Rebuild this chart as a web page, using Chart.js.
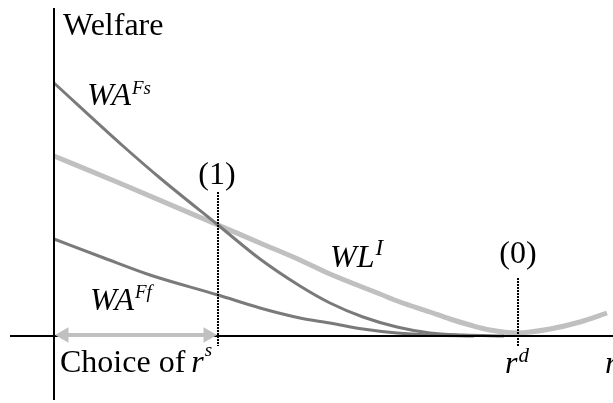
<!DOCTYPE html>
<html>
<head>
<meta charset="utf-8">
<script src="https://cdn.jsdelivr.net/npm/chart.js@4/dist/chart.umd.min.js"></script>
<style>
  body { margin: 0; background: #fff; }
  #wrap { width: 613px; height: 403px; }
</style>
</head>
<body>
<div id="wrap"><canvas id="welfare" width="613" height="403"></canvas></div>
<script>
// interest rate r (x) and welfare (y)
const rFs = [0, 69, 106, 164, 206, 246, 276, 309, 343, 376, 409, 450];
const WAFs = [253, 190, 158, 111, 77, 50, 33, 19, 9, 3, 1, 0];

const rFf = [0, 50, 96, 164, 206, 246, 276, 309, 343, 376, 420];
const WAFf = [97, 78, 61, 41, 28, 18, 13, 7, 3, 1, 0];

const rL = [0, 63, 164, 206, 246, 276, 326, 346, 376, 396, 416, 436, 463, 496, 526, 553];
const WLI = [180, 154, 111, 93, 76, 62, 42, 34, 24, 17, 11, 6, 3, 7, 14, 23];

// marked rates: r^s (point 1) and r^d (point 0)
const rMarks = [164, 464];
const markTops = [144, 58];
const markLabels = ['(1)', '(0)'];

// axes extents
const xAxisR = [-44, 559];
const yAxisW = [-64, 328];
const arrowR = [10, 154];

const pts = (xs, ys) => xs.map((x, i) => ({ x: x, y: ys[i] }));

const serif = '"Liberation Serif", "Times New Roman", serif';

function supText(ctx, main, sup, x, y, size, supSize, rise, italicMain) {
  ctx.font = (italicMain ? 'italic ' : '') + size + 'px ' + serif;
  ctx.fillText(main, x, y);
  const w = ctx.measureText(main).width;
  ctx.font = 'italic ' + supSize + 'px ' + serif;
  ctx.fillText(sup, x + w + 1, y - rise);
}

const labelsPlugin = {
  id: 'labels',
  afterDatasetsDraw(chart) {
    const ctx = chart.ctx;
    const xs = chart.scales.x, ys = chart.scales.y;
    const px = v => xs.getPixelForValue(v);
    const py = v => ys.getPixelForValue(v);
    ctx.save();
    ctx.fillStyle = '#000';
    ctx.textBaseline = 'alphabetic';

    ctx.textAlign = 'left';
    ctx.font = '32px ' + serif;
    ctx.fillText('Welfare', px(9), py(301));

    supText(ctx, 'WA', 'Fs', px(33), py(231), 32, 19, 11, true);
    supText(ctx, 'WA', 'Ff', px(36), py(26), 32, 19, 12, true);
    supText(ctx, 'WL', 'I', px(276), py(69), 32, 23, 12, true);

    ctx.textAlign = 'center';
    ctx.font = '32px ' + serif;
    ctx.fillText(markLabels[0], px(rMarks[0] - 1), py(152));
    ctx.fillText(markLabels[1], px(rMarks[1]), py(73));

    ctx.textAlign = 'left';
    ctx.font = '32px ' + serif;
    ctx.fillText('Choice of ', px(6), py(-36));
    const w = ctx.measureText('Choice of ').width;
    supText(ctx, 'r', 's', px(6) + w - 2, py(-36), 32, 19, 16, true);

    supText(ctx, 'r', 'd', px(451), py(-37), 32, 21, 11, true);

    ctx.font = 'italic 32px ' + serif;
    ctx.fillText('r', px(551), py(-37));
    ctx.restore();
  }
};

const line = (data, color, width, order) => ({
  data: data, borderColor: color, borderWidth: width, pointRadius: 0,
  fill: false, order: order, cubicInterpolationMode: 'monotone'
});

const dashed = (i) => ({
  data: pts([rMarks[i], rMarks[i]], [markTops[i], -10]),
  borderColor: '#000', borderWidth: 2, borderDash: [2, 1],
  pointRadius: 0, order: 1
});

new Chart(document.getElementById('welfare'), {
  type: 'line',
  data: {
    datasets: [
      {
        data: pts(arrowR, [1, 1]),
        borderColor: '#c0c0c0', backgroundColor: '#c0c0c0', borderWidth: 4,
        pointStyle: 'triangle', pointRadius: 9, pointRotation: [-90, 90],
        pointBorderWidth: 0, order: 0
      },
      dashed(0),
      dashed(1),
      line(pts(xAxisR, [0, 0]), '#000', 2, 2),
      line(pts([0, 0], yAxisW), '#000', 2, 2),
      line(pts(rL, WLI), '#c0c0c0', 5, 4),
      line(pts(rFs, WAFs), '#7a7a7a', 3, 3),
      line(pts(rFf, WAFf), '#7a7a7a', 3, 3)
    ]
  },
  options: {
    responsive: false,
    animation: false,
    layout: { padding: 0, autoPadding: false },
    scales: {
      x: { type: 'linear', display: false, min: -54, max: 559 },
      y: { type: 'linear', display: false, min: -67, max: 336 }
    },
    plugins: {
      legend: { display: false },
      tooltip: { enabled: false }
    },
    elements: { line: { borderCapStyle: 'butt' } }
  },
  plugins: [labelsPlugin]
});
</script>
</body>
</html>
